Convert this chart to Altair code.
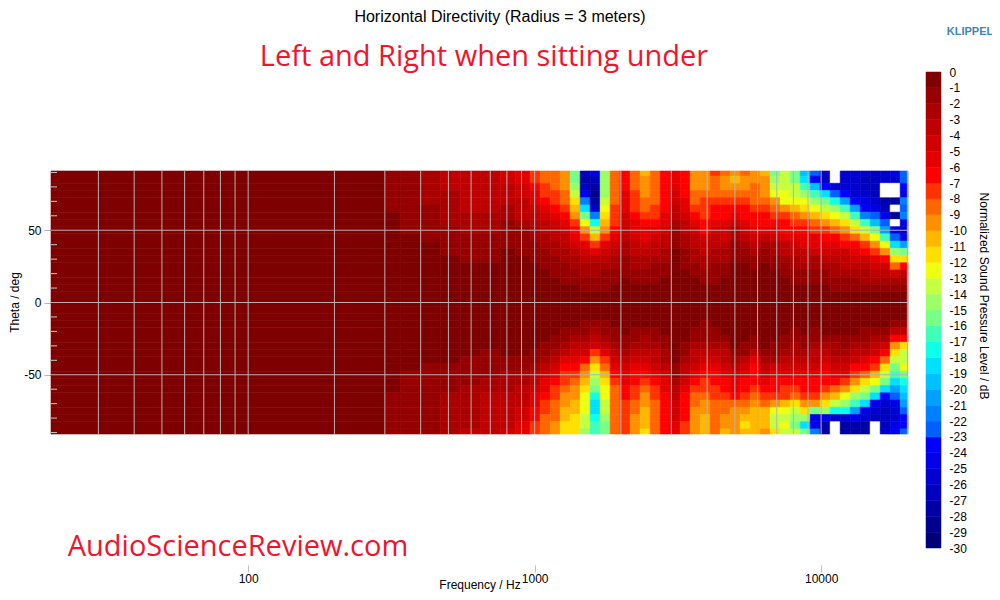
import altair as alt
import pandas as pd

# column edges of the measured grid, Hz
freq_edges = [20.5, 300, 339, 398, 468, 550, 645, 758, 855, 964, 1045, 1133, 1228, 1330, 1442,
              1562, 1693, 1835, 1988, 2155, 2335, 2531, 2743, 2972, 3221, 3491, 3783, 4099,
              4443, 4814, 5217, 5654, 6127, 6640, 7196, 7798, 8451, 9158, 9925, 10755, 11655,
              12631, 13688, 14834, 16076, 17421, 18879, 20100]

# theta rows
theta_upper = [90, 85, 80, 75, 70, 65, 60, 55, 50, 45, 40, 35, 30, 25, 20, 15, 10, 5, 0]
theta_lower = [-5, -10, -15, -20, -25, -30, -35, -40, -45, -50, -55, -60, -65, -70, -75, -80, -85, -90]

# dB below the on-axis level, one line per frequency column, theta 90 ... 0 (31 = below the scale)
upper = [
    [0] * 19,
    [1, 1, 1, 1, 1, 1, 0, 0, 0, 0, 0, 0, 0, 0, 0, 0, 0, 0, 0],
    [1, 1, 1, 1, 1, 1, 1, 1, 1, 0, 0, 0, 0, 0, 0, 0, 0, 0, 0],
    [2, 2, 2, 2, 2, 1, 1, 1, 1, 1, 0, 0, 0, 0, 0, 0, 0, 0, 0],
    [3, 3, 3, 2, 2, 2, 2, 2, 1, 1, 1, 1, 0, 0, 0, 0, 0, 0, 0],
    [3, 3, 3, 3, 3, 3, 2, 2, 2, 1, 1, 1, 1, 0, 0, 0, 0, 0, 0],
    [3, 3, 3, 3, 3, 3, 2, 2, 2, 1, 1, 1, 1, 0, 0, 0, 0, 0, 0],
    [4, 4, 3, 3, 3, 2, 2, 1, 1, 1, 1, 0, 0, 0, 0, 0, 0, 0, 0],
    [5, 5, 4, 4, 3, 3, 3, 2, 1, 1, 1, 1, 0, 0, 0, 0, 0, 0, 0],
    [7, 7, 6, 5, 5, 4, 3, 3, 2, 2, 1, 1, 1, 0, 0, 0, 0, 0, 0],
    [8, 8, 7, 7, 6, 5, 4, 3, 3, 2, 2, 1, 1, 1, 0, 0, 0, 0, 0],
    [8, 8, 8, 7, 7, 6, 5, 4, 3, 3, 2, 2, 1, 1, 1, 0, 0, 0, 0],
    [9, 9, 9, 8, 8, 7, 6, 5, 4, 3, 3, 2, 2, 1, 1, 1, 0, 0, 0],
    [15, 15, 14, 13, 11, 10, 9, 7, 6, 5, 4, 3, 2, 2, 1, 1, 0, 0, 0],
    [26, 27, 26, 24, 21, 18, 15, 12, 9, 7, 5, 4, 3, 2, 2, 1, 1, 0, 0],
    [24, 26, 27, 28, 27, 25, 21, 17, 13, 10, 7, 5, 3, 2, 2, 1, 1, 0, 0],
    [14, 14, 14, 14, 13, 12, 11, 10, 9, 7, 5, 4, 3, 2, 1, 1, 1, 0, 0],
    [8, 8, 8, 8, 8, 7, 7, 7, 6, 5, 4, 3, 2, 2, 1, 1, 0, 0, 0],
    [6, 6, 6, 5, 5, 5, 4, 4, 3, 3, 2, 2, 1, 1, 1, 0, 0, 0, 0],
    [8, 8, 8, 7, 7, 7, 6, 5, 5, 4, 3, 3, 2, 2, 1, 1, 0, 0, 0],
    [10, 9, 9, 9, 8, 8, 7, 6, 5, 5, 4, 3, 2, 2, 1, 1, 0, 0, 0],
    [8, 8, 8, 8, 8, 7, 7, 6, 5, 4, 3, 3, 2, 1, 1, 1, 0, 0, 0],
    [6, 6, 6, 6, 6, 6, 5, 5, 4, 3, 3, 2, 2, 1, 1, 0, 0, 0, 0],
    [5, 5, 5, 4, 4, 3, 3, 2, 1, 1, 1, 0, 0, 0, 0, 0, 0, 0, 0],
    [6, 6, 6, 6, 5, 5, 4, 3, 3, 2, 2, 1, 1, 1, 0, 0, 0, 0, 0],
    [9, 9, 9, 8, 8, 7, 6, 5, 4, 3, 3, 2, 2, 1, 1, 0, 0, 0, 0],
    [9, 9, 9, 8, 7, 7, 7, 6, 6, 4, 3, 3, 2, 2, 1, 1, 0, 0, 0],
    [7, 8, 8, 8, 7, 6, 6, 5, 4, 3, 3, 2, 2, 1, 1, 1, 0, 0, 0],
    [8, 9, 9, 8, 7, 6, 6, 5, 4, 4, 3, 2, 2, 1, 1, 0, 0, 0, 0],
    [9, 10, 9, 8, 7, 6, 5, 4, 2, 2, 1, 1, 1, 0, 0, 0, 0, 0, 0],
    [8, 9, 9, 8, 7, 6, 6, 5, 4, 3, 2, 1, 1, 0, 0, 0, 0, 0, 0],
    [9, 9, 8, 8, 8, 7, 6, 6, 5, 4, 3, 2, 1, 1, 0, 0, 0, 0, 0],
    [10, 9, 9, 9, 8, 7, 6, 6, 5, 3, 2, 1, 1, 0, 0, 0, 0, 0, 0],
    [15, 14, 13, 12, 9, 8, 7, 6, 5, 4, 2, 2, 1, 1, 0, 0, 0, 0, 0],
    [13, 13, 13, 12, 12, 9, 7, 6, 6, 5, 3, 3, 2, 1, 1, 0, 0, 0, 0],
    [15, 15, 13, 13, 12, 10, 8, 7, 6, 5, 4, 3, 2, 2, 1, 1, 0, 0, 0],
    [19, 18, 16, 14, 12, 11, 9, 7, 6, 5, 5, 3, 3, 2, 1, 1, 0, 0, 0],
    [22, 23, 19, 16, 14, 12, 10, 8, 7, 5, 5, 4, 2, 2, 1, 1, 0, 0, 0],
    [25, 26, 23, 18, 15, 13, 11, 9, 7, 6, 5, 4, 3, 2, 1, 1, 0, 0, 0],
    [31, 31, 25, 22, 17, 14, 12, 10, 8, 6, 5, 4, 3, 2, 2, 1, 1, 0, 0],
    [25, 25, 25, 23, 20, 16, 13, 11, 9, 7, 6, 4, 3, 3, 2, 1, 1, 0, 0],
    [25, 25, 25, 25, 23, 20, 16, 13, 11, 8, 6, 5, 4, 3, 2, 1, 1, 0, 0],
    [25, 26, 26, 25, 24, 23, 21, 16, 13, 10, 7, 6, 4, 3, 2, 2, 1, 0, 0],
    [26, 26, 26, 26, 25, 24, 22, 19, 15, 12, 9, 7, 5, 4, 3, 2, 1, 0, 0],
    [25, 25, 31, 31, 27, 26, 24, 22, 20, 16, 12, 9, 6, 4, 3, 2, 1, 0, 0],
    [24, 25, 31, 31, 27, 31, 28, 31, 24, 22, 18, 14, 11, 8, 4, 2, 1, 0, 0],
    [22, 22, 23, 24, 21, 22, 21, 24, 26, 24, 20, 15, 11, 6, 3, 2, 1, 0, 0],
]

# same columns, theta -5 ... -90
lower = [
    [0] * 18,
    [0] * 12 + [1, 1, 1, 1, 1, 1],
    [0] * 9 + [1, 1, 1, 1, 1, 1, 1, 1, 1],
    [0] * 8 + [1, 1, 1, 1, 1, 1, 1, 1, 1, 1],
    [0] * 8 + [1, 1, 1, 1, 2, 2, 2, 2, 2, 2],
    [0] * 7 + [1, 1, 1, 1, 2, 2, 2, 2, 2, 2, 3],
    [0] * 6 + [1, 1, 1, 1, 2, 2, 3, 3, 3, 3, 3, 3],
    [0] * 7 + [1, 1, 2, 2, 2, 3, 3, 3, 3, 3, 4],
    [0] * 7 + [1, 1, 2, 2, 3, 3, 3, 4, 4, 5, 5],
    [0] * 6 + [1, 1, 2, 3, 3, 4, 5, 5, 6, 6, 7, 7],
    [0] * 5 + [1, 1, 2, 3, 4, 5, 5, 6, 7, 7, 8, 8, 8],
    [0] * 4 + [1, 1, 2, 3, 4, 5, 6, 7, 7, 8, 8, 8, 9, 9],
    [0] * 3 + [1, 1, 2, 3, 5, 6, 7, 7, 8, 9, 9, 10, 10, 11, 11],
    [0] * 3 + [1, 2, 3, 4, 5, 6, 7, 8, 9, 9, 10, 10, 11, 11, 11],
    [0, 0, 1, 1, 2, 3, 4, 6, 8, 9, 10, 11, 12, 12, 12, 13, 13, 14],
    [0, 0, 1, 2, 3, 4, 7, 9, 11, 13, 14, 15, 17, 18, 18, 17, 16, 16],
    [0, 0, 1, 1, 2, 3, 5, 7, 8, 10, 11, 12, 12, 13, 13, 14, 15, 15],
    [0, 0, 0, 1, 1, 2, 3, 4, 5, 6, 7, 8, 8, 8, 8, 8, 8, 8],
    [0, 0, 0, 0, 1, 1, 2, 3, 4, 5, 5, 6, 6, 7, 7, 7, 7, 7],
    [0, 0, 0, 1, 1, 2, 3, 4, 5, 6, 6, 7, 7, 8, 8, 9, 9, 9],
    [0, 0, 0, 1, 2, 2, 3, 4, 5, 6, 7, 8, 9, 9, 10, 10, 10, 11],
    [0, 0, 0, 1, 1, 2, 3, 3, 4, 5, 6, 7, 7, 8, 8, 8, 8, 8],
    [0, 0, 0, 0, 1, 1, 2, 2, 3, 4, 5, 5, 6, 6, 6, 6, 6, 6],
    [0] * 8 + [1, 1, 2, 3, 3, 4, 4, 4, 5, 5],
    [0] * 5 + [1, 1, 2, 3, 3, 4, 5, 6, 6, 6, 6, 7, 7],
    [0, 0, 0, 1, 1, 2, 3, 3, 4, 5, 6, 7, 8, 8, 9, 9, 9, 9],
    [0, 0, 1, 1, 1, 2, 3, 4, 5, 6, 7, 7, 8, 9, 9, 10, 10, 10],
    [0, 0, 0, 1, 1, 2, 3, 4, 5, 6, 6, 7, 7, 8, 8, 8, 8, 8],
    [0, 0, 0, 0, 1, 2, 3, 3, 4, 5, 6, 6, 7, 8, 8, 9, 9, 10],
    [0] * 6 + [1, 2, 3, 4, 5, 5, 6, 8, 9, 9, 9, 9],
    [0] * 5 + [1, 1, 3, 4, 5, 6, 6, 7, 8, 9, 10, 11, 10],
    [0] * 4 + [1, 1, 3, 5, 6, 6, 6, 7, 8, 9, 10, 10, 10, 10],
    [0] * 6 + [1, 2, 3, 4, 5, 6, 7, 8, 10, 10, 10, 9],
    [0] * 5 + [1, 1, 2, 4, 5, 6, 6, 7, 9, 12, 13, 13, 11],
    [0] * 4 + [1, 1, 2, 3, 4, 5, 6, 7, 7, 10, 12, 13, 12, 13],
    [0, 0, 0, 1, 1, 2, 2, 3, 4, 5, 6, 7, 8, 11, 13, 14, 15, 13],
    [0] * 4 + [1, 1, 2, 3, 4, 5, 6, 6, 7, 9, 11, 14, 18, 15],
    [0, 0, 0, 1, 1, 2, 3, 3, 4, 5, 6, 6, 7, 9, 15, 24, 24, 21],
    [0] * 4 + [1, 2, 3, 4, 5, 6, 6, 7, 9, 11, 14, 24, 27, 27],
    [0] * 4 + [1, 2, 2, 3, 4, 5, 6, 8, 10, 13, 17, 25, 31, 31],
    [0] * 4 + [1, 1, 2, 3, 4, 5, 7, 9, 12, 14, 17, 25, 27, 27],
    [0] * 4 + [1, 2, 3, 4, 6, 7, 9, 11, 14, 16, 20, 24, 27, 27],
    [0, 0, 0, 1, 1, 2, 3, 5, 6, 8, 11, 13, 15, 18, 24, 25, 27, 27],
    [0, 0, 0, 1, 2, 3, 4, 6, 7, 10, 12, 15, 18, 24, 25, 26, 31, 31],
    [0, 0, 0, 1, 2, 4, 6, 8, 11, 13, 15, 18, 23, 25, 26, 26, 26, 25],
    [0, 0, 1, 3, 6, 9, 11, 13, 15, 16, 18, 20, 22, 24, 25, 25, 24, 23],
    [0, 0, 1, 3, 6, 11, 13, 13, 12, 15, 17, 18, 19, 20, 22, 23, 23, 22],
]

# one colour per 1 dB band, from the -30 end up to the 0 end; white lies below the scale
band_colors = ["#ffffff", "#000078", "#000090", "#0000a8", "#0000c0", "#0000d0", "#0000e8", "#0000ff",
               "#0060ff", "#0080ff", "#00a0ff", "#00c0ff", "#00e0ff", "#10ffe8", "#40ffb8",
               "#78ff88", "#9cff68", "#c4ff40", "#eeff10", "#ffe000", "#ffb800", "#ff9000", "#ff6600",
               "#ff3300", "#ff0000", "#e40000", "#d00000", "#bf0000", "#ab0000", "#960000", "#7f0000"]
band_limits = list(range(-30, 0))

grid_freqs = [30, 40, 50, 60, 70, 80, 90, 100, 200, 300, 400, 500, 600, 700, 800, 900,
              1000, 2000, 3000, 4000, 5000, 6000, 7000, 8000, 9000, 10000, 20000]
grid_thetas = [-50, 0, 50]
minor_thetas = [-90, -80, -70, -60, -40, -30, -20, -10, 10, 20, 30, 40, 60, 70, 80, 90]
freq_ticks = [100, 1000, 10000]
bar_ticks = list(range(-30, 1))

rows = []
thetas = theta_upper + theta_lower
for i, (u, l) in enumerate(zip(upper, lower)):
    col = u + l
    assert len(col) == 37, i
    for t, d in zip(thetas, col):
        rows.append({"f0": freq_edges[i], "f1": freq_edges[i + 1],
                     "t0": max(t - 2.5, -91), "t1": min(t + 2.5, 91), "level": -d - 0.5})
cells = pd.DataFrame(rows)

xs = alt.Scale(type="log", domain=[20.5, 20100], range=[0, 857], nice=False)
ys = alt.Scale(domain=[-91, 91], range=[362, 99], nice=False, zero=False)
cs = alt.Scale(type="threshold", domain=band_limits, range=band_colors)
bar_y = alt.Scale(domain=[-30, 0], range=[476, 0], nice=False, zero=False)

FONT = "Liberation Sans"
GRID = "#b4b4b4"
PLAIN_NUMBER = "'' + datum.value"

heat = alt.Chart(cells).mark_rect(strokeWidth=0.6).encode(
    x=alt.X("f0:Q", scale=xs, axis=alt.Axis(
        title="Frequency / Hz", values=freq_ticks, labelExpr=PLAIN_NUMBER, grid=False, domain=False,
        tickColor="#c0c0c0", tickSize=7, labelPadding=1, labelFontSize=12, labelFont=FONT,
        labelColor="#000", titleFont=FONT, titleFontSize=12, titleFontWeight="normal",
        titleColor="#000", titlePadding=-5, labelFlush=False, labelOverlap=False)),
    x2="f1:Q",
    y=alt.Y("t0:Q", scale=ys, axis=alt.Axis(
        title="Theta / deg", values=grid_thetas, labelExpr=PLAIN_NUMBER, grid=False, domain=True,
        domainColor=GRID, tickColor=GRID, tickSize=7, labelPadding=3, labelFontSize=12, labelFont=FONT,
        labelColor="#000", titleFont=FONT, titleFontSize=12, titleFontWeight="normal",
        titleColor="#000", titleX=-30, titleY=230)),
    y2="t1:Q",
    color=alt.Color("level:Q", scale=cs, legend=None),
    stroke=alt.Stroke("level:Q", scale=cs, legend=None),
)

vgrid = alt.Chart(pd.DataFrame({"f": grid_freqs, "a": -91, "b": 91})).mark_rule(color=GRID, strokeWidth=1).encode(
    x=alt.X("f:Q", scale=xs, axis=None),
    y=alt.Y("a:Q", scale=ys, axis=None),
    y2="b:Q",
)
hgrid = alt.Chart(pd.DataFrame({"t": grid_thetas, "a": 20.5, "b": 20100})).mark_rule(color=GRID, strokeWidth=1).encode(
    y=alt.Y("t:Q", scale=ys, axis=None),
    x=alt.X("a:Q", scale=xs, axis=None),
    x2="b:Q",
)
minor = alt.Chart(pd.DataFrame({"t": minor_thetas})).mark_rule(color="#c8c8c8", strokeWidth=1).encode(
    y=alt.Y("t:Q", scale=ys, axis=None),
    x=alt.value(0),
    x2=alt.value(6),
)

bands = pd.DataFrame({"lo": list(range(-30, 0)), "hi": list(range(-29, 1))})
bands["level"] = bands["lo"] + 0.5
bar = alt.Chart(bands).mark_rect(strokeWidth=0.5).encode(
    x=alt.value(875),
    x2=alt.value(890),
    y=alt.Y("lo:Q", scale=bar_y, axis=alt.Axis(
        orient="right", title=None, values=bar_ticks, labelExpr=PLAIN_NUMBER, grid=False, domain=False,
        ticks=False, labelPadding=8, labelFontSize=12, labelFont=FONT, labelColor="#000",
        labelOverlap=False, labelFlush=False)),
    y2="hi:Q",
    color=alt.Color("level:Q", scale=cs, legend=None),
    stroke=alt.Stroke("level:Q", scale=cs, legend=None),
)


def label(text, x, y, **kw):
    return alt.Chart(pd.DataFrame({"t": [text]})).mark_text(**kw).encode(
        text="t:N", x=alt.value(x - 51), y=alt.value(y - 72))


texts = [
    label("Horizontal Directivity (Radius = 3 meters)", 500, 17, font=FONT, fontSize=16, color="#000"),
    label("Left and Right when sitting under", 484, 57, font="Open Sans", fontSize=29, color="#f0142d"),
    label("AudioScienceReview.com", 238, 547, font="Open Sans", fontSize=29, color="#f0142d"),
    label("KLIPPEL", 970, 32, font=FONT, fontSize=11, fontWeight="bold", color="#3c87b4"),
    label("Normalized Sound Pressure Level / dB", 984, 296, font=FONT, fontSize=12, color="#000", angle=90),
]

chart = alt.layer(heat, vgrid, hgrid, minor, bar, *texts).resolve_scale(
    x="independent", y="independent"
).properties(
    width=890, height=493,
    autosize=alt.AutoSizeParams(type="none", contains="content"),
    padding={"left": 43, "top": 64, "right": 51, "bottom": 27},
    background="white",
).configure_view(stroke=None)

chart.save("out.html", embed_options={"renderer": "svg", "actions": False})
